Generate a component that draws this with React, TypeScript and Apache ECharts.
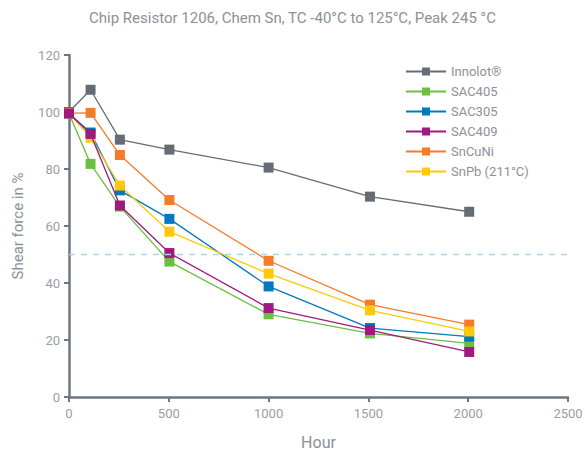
import React, { useEffect, useRef } from "react";
import * as echarts from "echarts";

const title = "Chip Resistor 1206, Chem Sn, TC -40°C to 125°C, Peak 245 °C";
const hours = [0, 108, 255, 503, 1000, 1508, 2005];
const seriesNames = ["Innolot®", "SAC405", "SAC305", "SAC409", "SnCuNi", "SnPb (211°C)"];
const innolot = [100, 107.8, 90.3, 86.8, 80.5, 70.3, 65];
const sac405 = [99.5, 81.8, 66.8, 47.5, 29, 22.3, 18.8];
const sac305 = [99.5, 92.8, 72.5, 62.5, 38.8, 24.2, 21.2];
const sac409 = [99.5, 92.3, 67.2, 50.5, 31.2, 23.5, 15.8];
const sncuni = [99.6, 99.7, 84.9, 69.1, 47.8, 32.4, 25.4];
const snpb = [99.5, 91, 74.2, 58, 43.3, 30.4, 23];
const colors = ["#656c73", "#6cbf45", "#0079c1", "#a0197f", "#f47b27", "#ffc90b"];
const refLine = 50;

export default function App() {
  const ref = useRef<HTMLDivElement>(null);
  useEffect(() => {
    document.body.style.margin = "0";
    if (!ref.current) return;
    const chart = echarts.init(ref.current, undefined, { renderer: "svg" });
    const values = [innolot, sac405, sac305, sac409, sncuni, snpb];
    const font = "Roboto, sans-serif";
    chart.setOption({
      animation: false,
      title: {
        text: title,
        left: "center",
        top: 5,
        textStyle: { fontFamily: font, fontSize: 15, fontWeight: "normal", color: "#8c9196" },
      },
      legend: {
        orient: "vertical",
        left: 400,
        top: 60,
        itemWidth: 40,
        itemHeight: 10,
        itemGap: 7,
        data: seriesNames,
        textStyle: { fontFamily: font, fontSize: 13, color: "#8c9196" },
      },
      grid: { left: 69, right: 17, top: 55, bottom: 53, outerBoundsMode: "none", containLabel: false },
      xAxis: {
        type: "value",
        min: 0,
        max: 2500,
        interval: 500,
        name: "Hour",
        nameLocation: "middle",
        nameGap: 37,
        nameTextStyle: { fontFamily: font, fontSize: 16, color: "#8c9196" },
        axisLine: { lineStyle: { color: "#6e7781", width: 2.5 } },
        axisTick: { show: true, length: 5, lineStyle: { color: "#6e7781", width: 2 } },
        axisLabel: {
          fontFamily: font,
          fontSize: 13,
          color: "#9aa0a6",
          margin: 10,
          formatter: (v: number) => String(v),
        },
        splitLine: { show: false },
      },
      yAxis: {
        type: "value",
        min: 0,
        max: 120,
        interval: 20,
        name: "Shear force in %",
        nameLocation: "middle",
        nameGap: 44,
        nameTextStyle: { fontFamily: font, fontSize: 15, color: "#8c9196" },
        axisLine: { show: true, lineStyle: { color: "#6e7781", width: 2.5 } },
        axisTick: { show: true, length: 5, lineStyle: { color: "#6e7781", width: 2 } },
        axisLabel: { fontFamily: font, fontSize: 13, color: "#9aa0a6", margin: 9 },
        splitLine: { show: false },
      },
      series: seriesNames.map((name, i) => ({
        name,
        type: "line",
        data: hours.map((h, j) => [h, values[i][j]]),
        symbol: "rect",
        symbolSize: 10,
        z: i === 3 ? 3 : 2,
        itemStyle: { color: colors[i] },
        lineStyle: { color: colors[i], width: 1.3 },
        markLine:
          i === 0
            ? {
                silent: true,
                symbol: "none",
                label: { show: false },
                lineStyle: { color: "#a9d4f0", type: [6, 6], width: 1.3 },
                data: [{ yAxis: refLine }],
              }
            : undefined,
      })),
    });
    return () => chart.dispose();
  }, []);
  return <div ref={ref} style={{ width: 585, height: 450 }} />;
}
